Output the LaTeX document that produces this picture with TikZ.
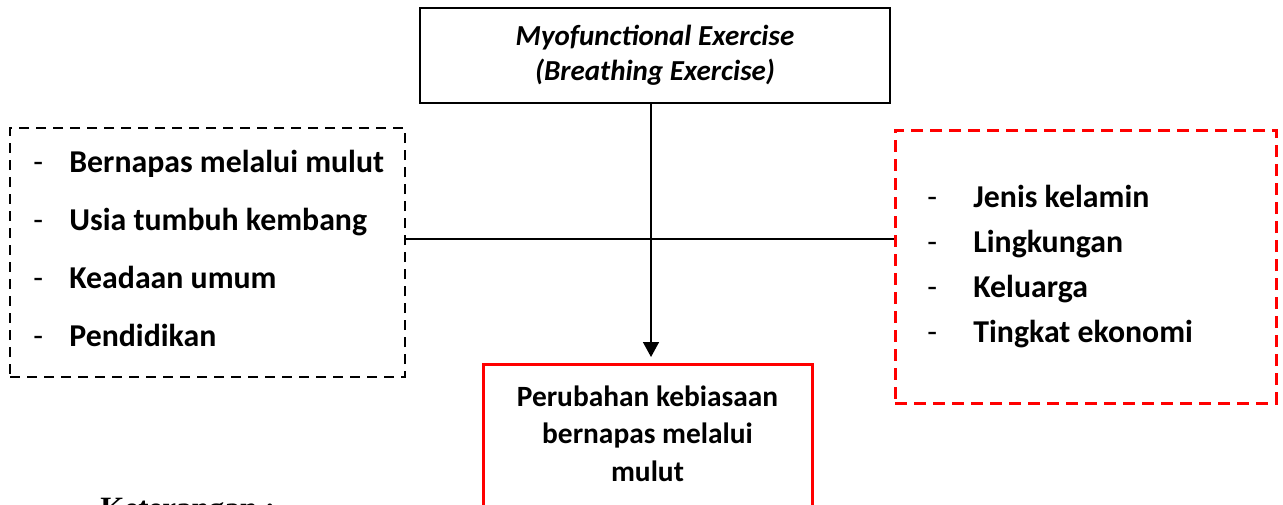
\documentclass[tikz,border=0pt]{standalone}
\usepackage{fontspec}
\setmainfont{Carlito}
\newfontfamily\timesfont{Liberation Serif}
\usetikzlibrary{arrows.meta,positioning}

\begin{document}
\begin{tikzpicture}[
  x=0.5pt, y=-0.5pt, >={Triangle[width=8pt,length=7.5pt]},
  block/.style={draw=black, line width=1.35pt, minimum width=235pt, minimum height=47.5pt, inner sep=0pt, font=\fontsize{14.5}{17.5}\selectfont\bfseries\itshape, align=center},
  dashbox/.style={draw=black, line width=1.3pt, dash pattern=on 5pt off 3.5pt, inner sep=0pt},
  reddash/.style={dashbox, draw=red, line width=1.5pt, dash pattern=on 6pt off 3.5pt},
  result/.style={draw=red, line width=1.5pt, inner sep=0pt, minimum width=164.5pt, minimum height=85pt},
  item/.style={anchor=base west, inner sep=0pt, font=\fontsize{15.9}{18}\selectfont\bfseries},
  bullet/.style={anchor=base west, inner sep=0pt, font=\fontsize{15.9}{18}\selectfont},
  arrow/.style={->, line width=0.75pt, black}
]
\useasboundingbox (0,0) rectangle (1283,504);

\node[block] (myo) at (655,55.5) {Myofunctional Exercise\\(Breathing Exercise)};
\node[dashbox, minimum width=197.5pt, minimum height=124.5pt] (internal) at (207.5,252.5) {};
\node[reddash, minimum width=190.5pt, minimum height=136.5pt] (external) at (1085.5,266.5) {};
\node[result, anchor=north] (change) at (647.5,363) {};

% left list
\foreach \txt [count=\i from 0] in {Bernapas melalui mulut, Usia tumbuh kembang, Keadaan umum, Pendidikan} {
  \node[bullet] (ld\i) at (33,{172+58*\i}) {-};
  \node[item] (l\i) at (69,{172+58*\i}) {\txt};
}

% right list
\foreach \txt [count=\i from 0] in {Jenis kelamin, Lingkungan, Keluarga, Tingkat ekonomi} {
  \node[bullet] (rd\i) at (927,{207+45*\i}) {-};
  \node[item] (r\i) at (973,{207+45*\i}) {\txt};
}

\node[anchor=base, inner sep=0pt, align=center, font=\fontsize{14.7}{18.75}\selectfont\bfseries] (changetxt) at (647.5,481) {Perubahan kebiasaan\\bernapas melalui\\mulut};

\node[anchor=base west, inner sep=0pt, font=\timesfont\bfseries\fontsize{15.5}{18}\selectfont] (note) at (100,518) {Keterangan :};

\coordinate (hub) at (651,239);
\draw[line width=0.75pt] (internal.east |- hub) -- (external.west |- hub);
\draw[arrow] (myo.south -| hub) -- ([yshift=3pt]change.north -| hub);

\end{tikzpicture}
\end{document}
